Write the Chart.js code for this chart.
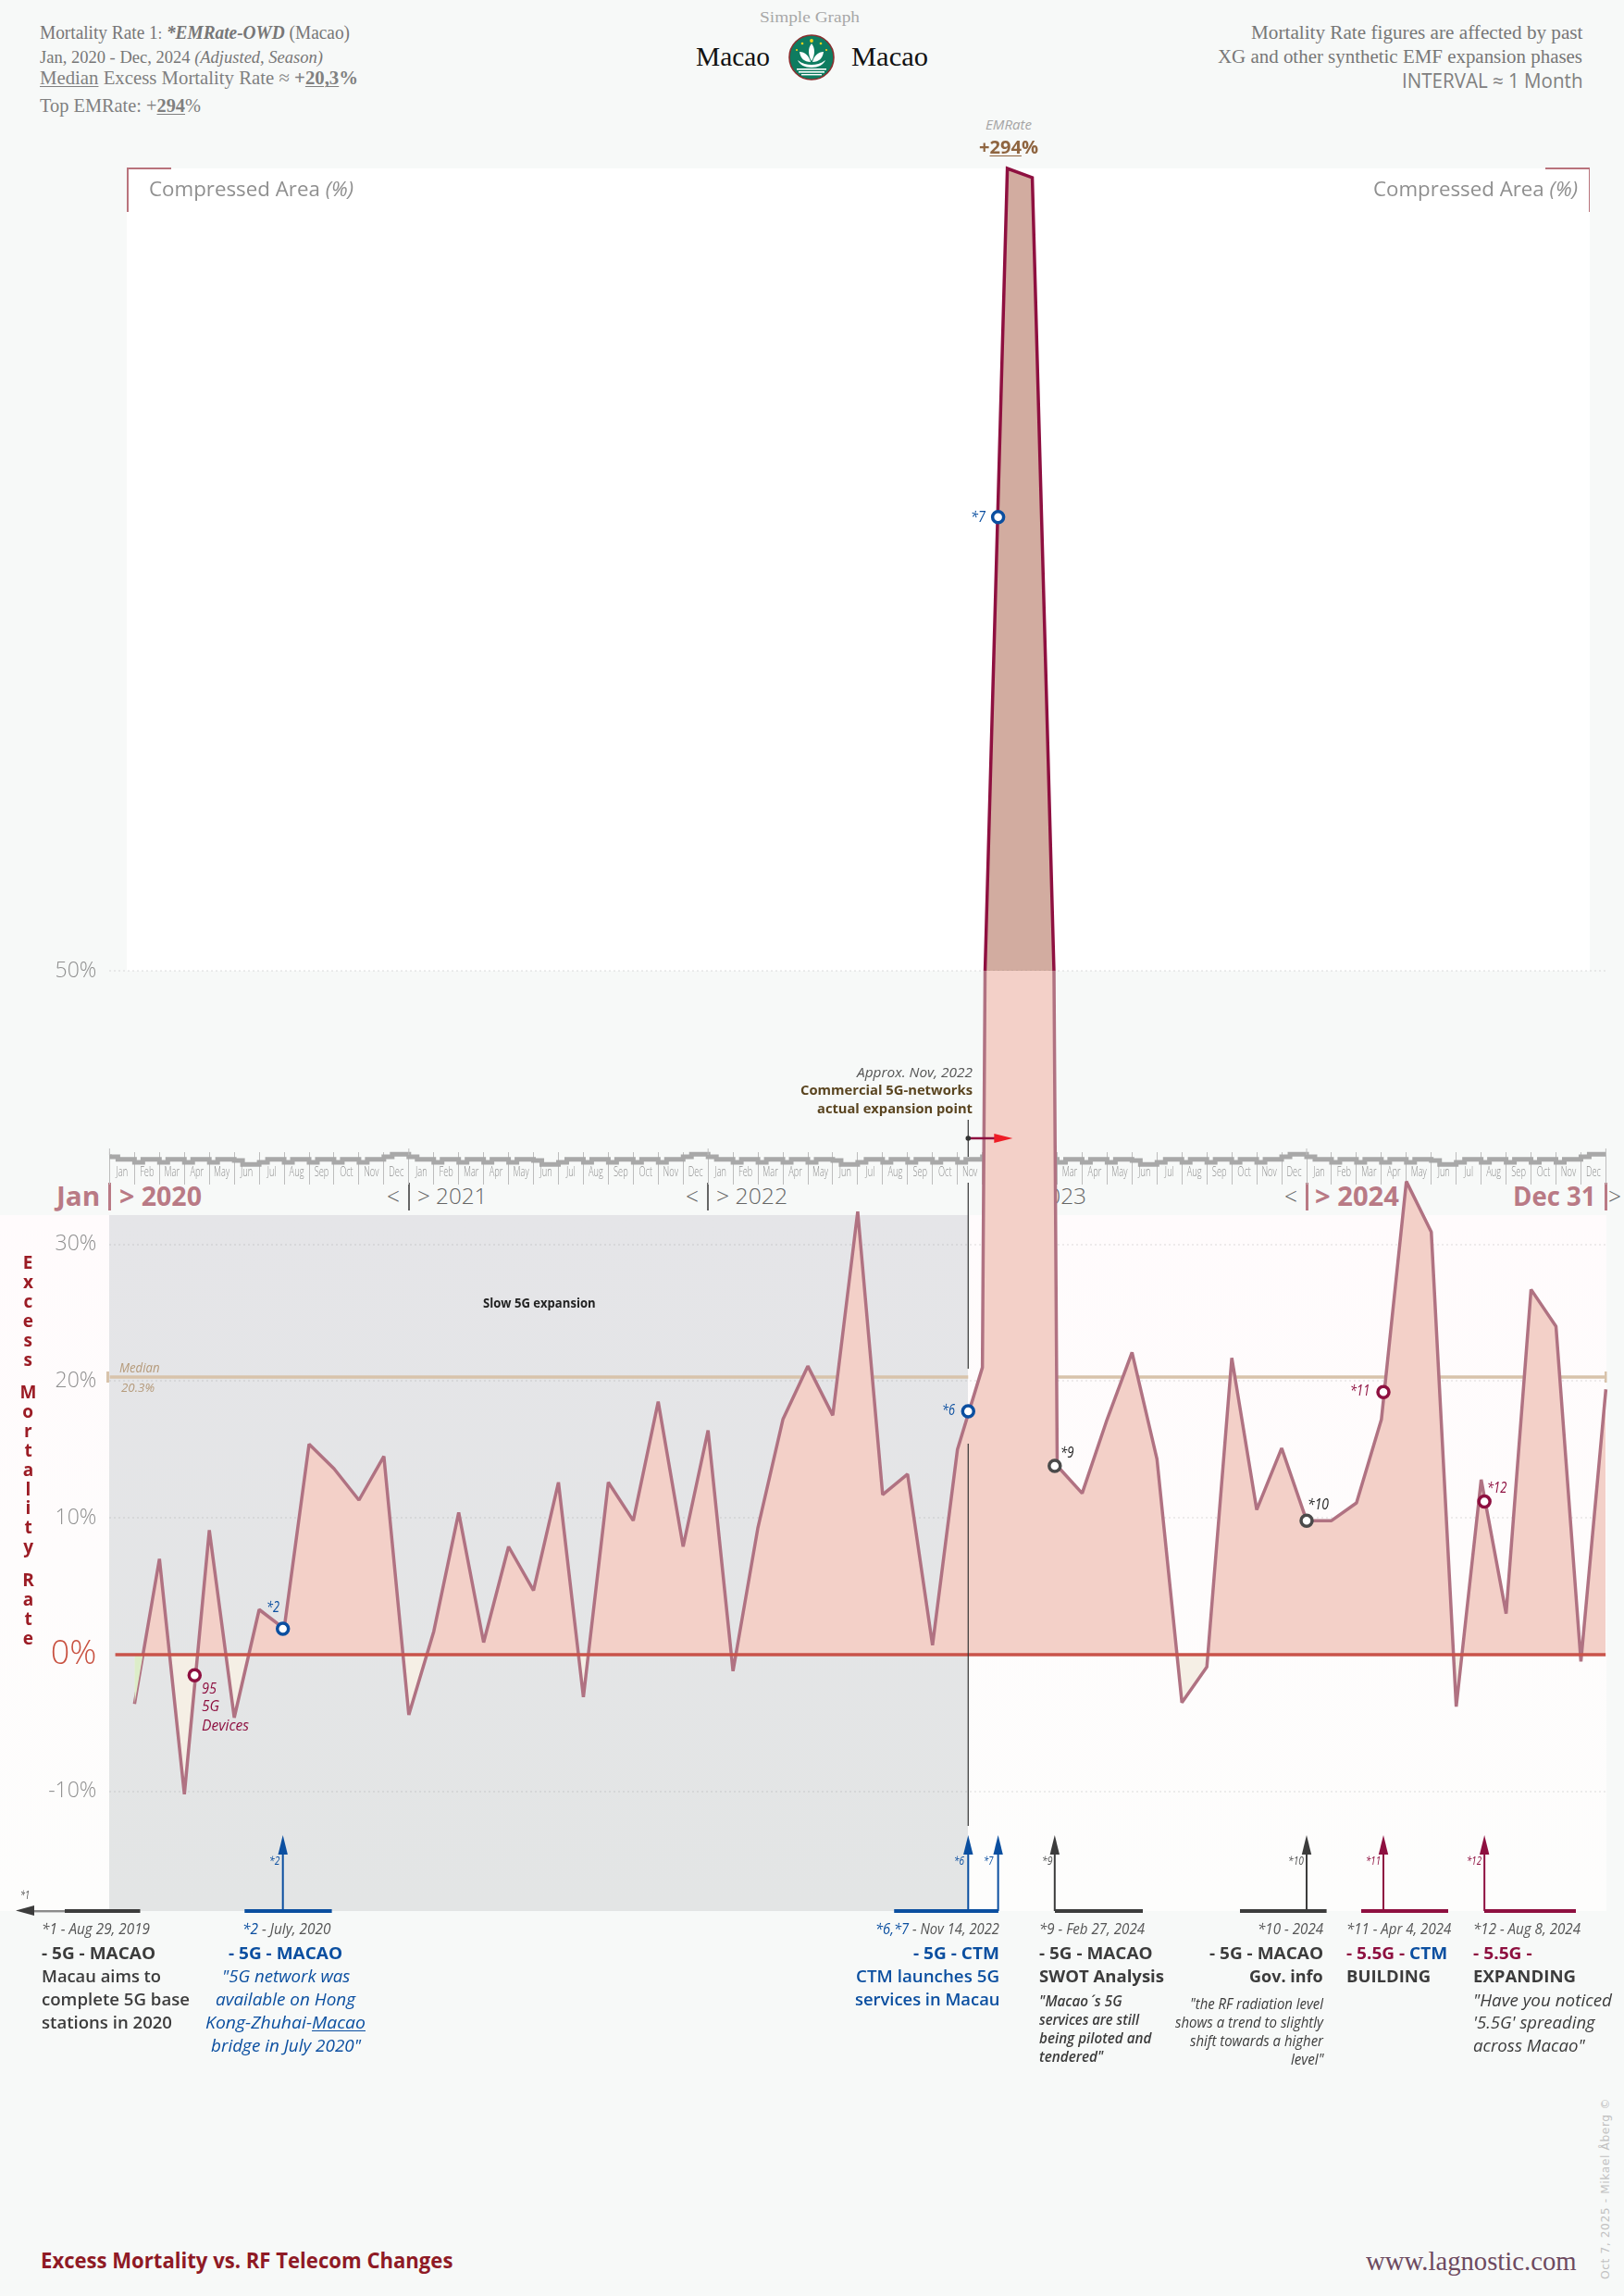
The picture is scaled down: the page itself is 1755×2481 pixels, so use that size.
<!DOCTYPE html>
<html><head><meta charset="utf-8">
<script src="https://cdn.jsdelivr.net/npm/chart.js@4"></script>
<style>
html,body{margin:0;padding:0;width:1755px;height:2481px;overflow:hidden;background:#f7f9f8}
#stage{position:absolute;left:0;top:0;width:1755px;height:2481px;overflow:hidden}
.box{position:absolute}
.t{position:absolute;white-space:nowrap;line-height:1.2}
canvas{position:absolute}
u{text-underline-offset:2px;text-decoration-thickness:1px}
</style></head><body>
<div id="stage"></div>
<script>
// ---------- DATA ----------
const seriesValues = [
 -3.6, 7.0, -10.2, 9.1, -4.6, 3.3, 1.9, 15.4, 13.6, 11.3, 14.5, -4.4,
 1.7, 10.4, 0.9, 7.9, 4.7, 12.6, -3.1, 12.6, 9.8, 18.5, 7.9, 16.4,
 -1.2, 9.3, 17.2, 21.1, 17.5, 32.4, 11.7, 13.2, 0.7, 15.0, 21.0, 294,
 291.2, 13.8, 11.8, 17.2, 22.1, 14.3, -3.5, -0.9, 21.7, 10.6, 15.1, 9.8,
 9.8, 11.1, 17.2, 34.6, 30.9, -3.8, 12.8, 3.0, 26.7, 24.0, -0.5, 19.4];
const markerMonths = [3.41, 6.95, 34.43, 35.63, 37.9, 48, 51.08, 55.13];
const markerValues = [-1.5, 1.9, 17.8, 188, 13.8, 9.8, 19.2, 11.2];
const markerNames  = ['95','*2','*6','*7','*9','*10','*11','*12'];
const medianValue = 20.3;
const yTickValues = [-10, 0, 10, 20, 30, 50];
const monthNames = ['Jan','Feb','Mar','Apr','May','Jun','Jul','Aug','Sep','Oct','Nov','Dec'];
const yearNames = ['2020','2021','2022','2023','2024'];
// calendar band: level of the grey band for each third of a month over one year
const calendarLevels = [33,25,17, 17,7,17, 17,7,17, 17,7,17, 17,7,17, 17,13,0, 0,7,17, 17,7,17, 17,7,17, 17,7,17, 17,7,17, 17,25,33];

// ---------- COLOURS ----------
const BLUE='#0b4fa0', MAROON='#8e1040', DARK='#3c3c3c', ROSE='#b97a85';
const markerColors=[MAROON,BLUE,BLUE,BLUE,'#4a4a4a','#4a4a4a',MAROON,MAROON];
const SANS="'Open Sans',sans-serif", SERIF="'Liberation Serif',serif";
const stage=document.getElementById('stage');

function box(x,y,w,h,bg,z){const d=document.createElement('div');d.className='box';
 d.style.cssText=`left:${x}px;top:${y}px;width:${w}px;height:${h}px;background:${bg};z-index:${z||1}`;stage.appendChild(d);return d;}
// html text fitted between x0 and x1 and vertically centred on cy
function T(html,x0,x1,cy,o){o=o||{};const d=document.createElement('div');d.className='t';d.innerHTML=html;
 const size=o.size||18;
 d.style.cssText=`left:${x0}px;top:${cy-size*0.6}px;font-family:${o.font||SANS};font-size:${size}px;font-weight:${o.weight||400};font-style:${o.style||'normal'};color:${o.color||'#777'};z-index:${o.z||20};transform-origin:0 50%`;
 stage.appendChild(d);const w=d.getBoundingClientRect().width;
 if(x1) d.style.transform=`scaleX(${(x1-x0)/w})`;return d;}

// ---------- BACKGROUNDS ----------
box(0,1313,1736,752,'linear-gradient(#fffbfc,#fdfdfc)',1);
box(118.4,1313,927.9,752,'linear-gradient(#e5e5e8,#e3e5e5)',2);
box(137,182,1581,867,'#ffffff',1);
// compressed-area corner brackets
box(137,181,48,1.5,'#b9737c',3);box(137,181,1.5,48,'#b9737c',3);
box(1670,181,48,1.5,'#b9737c',3);box(1716.5,181,1.5,48,'#b9737c',3);

// ---------- HEADER ----------
T('Mortality Rate 1<span style="font-size:.8em">:</span> <b><i>*EMRate-OWD</i></b> (Macao)',43,378,35,{font:SERIF,size:20});
T('Jan, 2020 - Dec, 2024 <i>(Adjusted, Season)</i>',43,349,62,{font:SERIF,size:19});
T('<u>Median</u> Excess Mortality Rate ≈ <b>+<u>20,3</u>%</b>',43,387,85,{font:SERIF,size:21,color:'#808080'});
T('Top EMRate: +<b><u>294</u></b>%',43,217,115,{font:SERIF,size:21,color:'#808080'});
T('Simple Graph',821,929,19,{font:SERIF,size:17,color:'#a8a8a8'});
T('Macao',752,832,61,{font:SERIF,size:30,color:'#111'});
T('Macao',920,1003,61,{font:SERIF,size:30,color:'#111'});
T('Mortality Rate figures are affected by past',1351.5,1710,35,{font:SERIF,size:20});
T('XG and other synthetic EMF expansion phases',1316,1710,61,{font:SERIF,size:20});
T('INTERVAL ≈ 1 Month',1514.5,1710,88,{size:21,color:'#808080'});
T('EMRate',1065,1115,135,{size:14,style:'italic',color:'#a5a5a5'});
T('+<u>294</u>%',1058,1122,159,{size:20,weight:700,color:'#8f6540'});
T('Compressed Area <i>(%)</i>',160.5,381.6,203,{size:22,color:'#8f8f8f'});
T('Compressed Area <i>(%)</i>',1484,1705,203,{size:22,color:'#8f8f8f'});

// emblem
(function(){const d=document.createElement('div');d.className='box';d.style.cssText='left:852px;top:37px;width:50px;height:50px;z-index:20';
d.innerHTML=`<svg width="50" height="50" viewBox="0 0 50 50"><circle cx="25" cy="25" r="24" fill="#0e7c60" stroke="#8a2f2f" stroke-width="1.6"/>
<g fill="#fff"><path d="M25 10c4 5 4 12 0 19c-4-7-4-14 0-19z"/><path d="M12 19c6 0 10 4 12 11c-7 0-11-4-12-11z"/><path d="M38 19c-6 0-10 4-12 11c7 0 11-4 12-11z"/><path d="M10 28c5 4 10 5 15 5s10-1 15-5c-2 5-8 8-15 8s-13-3-15-8z"/>
<rect x="9" y="37" width="32" height="1.6"/><rect x="11" y="40" width="28" height="1.6"/><rect x="14" y="43" width="22" height="1.4"/></g>
<g fill="#f7d51d"><circle cx="25" cy="7" r="1.9"/><circle cx="15" cy="10" r="1.3"/><circle cx="35" cy="10" r="1.3"/><circle cx="9" cy="17" r="1.1"/><circle cx="41" cy="17" r="1.1"/></g></svg>`;stage.appendChild(d);})();

// ---------- YEAR LABELS (behind the charts) ----------
function yearBar(x,c,w){box(x-w/2,1278,w,30,c,4);}
T('Jan',60.6,108,1292,{size:29,weight:700,color:ROSE,z:4});yearBar(118.4,ROSE,3);
T('&gt; '+yearNames[0],129,218,1292,{size:29,weight:700,color:ROSE,z:4});
T('&lt;',418,432,1292,{size:25,weight:300,color:'#666',z:4});yearBar(441.8,'#666',2);
T('&gt; '+yearNames[1],450.6,526,1292,{size:24,weight:300,color:'#666',z:4});
T('&lt;',741,755,1292,{size:25,weight:300,color:'#666',z:4});yearBar(765,'#666',2);
T('&gt; '+yearNames[2],774,851,1292,{size:24,weight:300,color:'#666',z:4});
T('&gt; '+yearNames[3],1098,1174,1292,{size:24,weight:300,color:'#666',z:4});
T('&lt;',1388,1402,1292,{size:25,weight:300,color:'#666',z:4});yearBar(1412,ROSE,3);
T('&gt; '+yearNames[4],1421,1512,1292,{size:29,weight:700,color:ROSE,z:4});
T('Dec 31',1634.5,1724,1292,{size:29,weight:700,color:ROSE,z:4});yearBar(1735.5,ROSE,3);
T('&gt;',1738,1752,1292,{size:25,weight:300,color:'#666',z:4});

// ---------- AXIS TITLE ----------
function vertical(txt,top){const d=document.createElement('div');d.className='t';d.textContent=txt;
 d.style.cssText=`left:18px;top:${top}px;width:24px;writing-mode:vertical-rl;text-orientation:upright;font-family:${SANS};font-weight:700;font-size:19px;line-height:24px;letter-spacing:-5.1px;color:#9b1c25;z-index:20`;stage.appendChild(d);}
vertical('Excess',1351);vertical('Mortality',1491);vertical('Rate',1694);

// ---------- CHART LABELS ----------
T('Slow 5G expansion',522,643.6,1408,{size:14,weight:700,color:'#222'});
T('Median',128.5,172,1478,{size:14,style:'italic',color:'#b59a7a'});
T('20.3%',131,167,1500,{size:13,style:'italic',color:'#b59a7a'});
T('95',218,234,1824.5,{size:16,style:'italic',color:MAROON});
T('5G',218,237,1844,{size:16,style:'italic',color:MAROON});
T('Devices',218,269,1864.5,{size:16,style:'italic',color:MAROON});
T('*2',288,302,1737,{size:16,style:'italic',color:BLUE});
T('*6',1018,1032,1524,{size:16,style:'italic',color:BLUE});
T('*7',1049,1065,559,{size:16,style:'italic',color:BLUE});
T('*9',1145.6,1160,1570,{size:16,style:'italic',color:'#222'});
T('*10',1413,1436,1626,{size:16,style:'italic',color:'#222'});
T('*11',1458.7,1480,1503,{size:16,style:'italic',color:MAROON});
T('*12',1606.6,1628,1608,{size:16,style:'italic',color:MAROON});
T('Approx. Nov, 2022',926,1051,1158,{size:15,style:'italic',color:'#555'});
T('Commercial 5G-networks',865,1051,1177,{size:15,weight:700,color:'#5a4520'});
T('actual expansion point',883,1051,1197,{size:15,weight:700,color:'#5a4520'});
// small arrow tags
const tag={size:12,style:'italic'};
T('*1',22,32,2048,{...tag,color:'#555'});
T('*2',290.7,302,2011,{...tag,color:BLUE});
T('*6',1031,1042,2011,{...tag,color:BLUE});
T('*7',1062.5,1073,2011,{...tag,color:BLUE});
T('*9',1125.5,1137,2011,{...tag,color:'#555'});
T('*10',1392,1409,2011,{...tag,color:'#555'});
T('*11',1476,1492,2011,{...tag,color:MAROON});
T('*12',1585,1601,2011,{...tag,color:MAROON});

// ---------- ANNOTATION COLUMNS ----------
const date={size:16,style:'italic',color:'#555'}, head={size:18,weight:700,color:DARK}, body={size:18,weight:600,color:DARK};
const bq={size:18,style:'italic',color:BLUE,weight:500}, q9={size:15.5,style:'italic',weight:600,color:DARK}, q10={size:15.5,style:'italic',color:DARK}, q12={size:18,style:'italic',color:DARK};
T('*1 - Aug 29, 2019',45,162,2085,date);
T('- 5G - MACAO',45,168,2111,head);
T('Macau aims to',45,174,2136,body);
T('complete 5G base',45,205,2161,body);
T('stations in 2020',45,186,2186,body);
T(`<span style="color:${BLUE}">*2</span> - July, 2020`,261.5,357,2085,date);
T('- 5G - MACAO',247,370,2111,{...head,color:BLUE});
T('"5G network was',239.6,378,2136,bq);
T('available on Hong',233,384,2161,bq);
T('Kong-Zhuhai-<u>Macao</u>',222,395,2186,bq);
T('bridge in July 2020"',228,390,2211,bq);
T(`<span style="color:${BLUE}">*6,*7</span> - Nov 14, 2022`,946,1080,2085,date);
T('- 5G - CTM',987,1080,2111,{...head,color:BLUE});
T('CTM launches 5G',925,1080,2136,{...head,color:BLUE,weight:600});
T('services in Macau',923.5,1080,2161,{...head,color:BLUE,weight:600});
T('*9 - Feb 27, 2024',1123,1237,2085,date);
T('- 5G - MACAO',1123,1245.5,2111,head);
T('SWOT Analysis',1123,1258,2136,head);
T('"Macao<span style="margin-left:.14em;letter-spacing:.3em">´</span>s 5G',1123,1212.6,2162,q9);
T('services are still',1123,1231,2182.7,q9);
T('being piloted and',1123,1244.4,2202.7,q9);
T('tendered"',1123,1192.5,2222.7,q9);
T('*10 - 2024',1358.8,1430,2085,date);
T('- 5G - MACAO',1307,1430,2111,head);
T('Gov. info',1350.4,1430,2136,head);
T('"the RF radiation level',1286,1430,2165,q10);
T('shows a trend to slightly',1270,1430,2185,q10);
T('shift towards a higher',1286,1430,2205,q10);
T('level"',1394.5,1430,2225,q10);
T('*11 - Apr 4, 2024',1454.8,1568,2085,date);
T(`<span style="color:${MAROON}">- 5.5G -</span> <span style="color:${BLUE}">CTM</span>`,1454.8,1564,2111,head);
T('BUILDING',1454.8,1546,2136,head);
T('*12 - Aug 8, 2024',1592,1708,2085,date);
T('- 5.5G -',1592,1655.7,2111,{...head,color:MAROON});
T('EXPANDING',1592,1703,2136,head);
T('"Have you noticed',1592,1742,2162,q12);
T("'5.5G' spreading",1592,1723.7,2186,q12);
T('across Macao"',1592,1712.6,2211,q12);

// ---------- FOOTER ----------
T('Excess Mortality vs. RF Telecom Changes',43.6,489,2443,{size:23,weight:700,color:'#8f1a25'});
T('www.lagnostic.com',1476,1703.6,2443,{font:SERIF,size:29,color:'#6d4a60'});
(function(){const d=T('Oct 7, 2025 - Mikael Åberg ©',0,0,0,{font:"'DejaVu Sans',sans-serif",size:12,color:'#c2c2c2'});
 d.style.letterSpacing='0.6px';const w=d.getBoundingClientRect().width;
 d.style.left='1735px';d.style.top='2463px';d.style.transformOrigin='0 0';d.style.transform=`rotate(-90deg) translateY(-7px) scaleX(${196/w})`;})();

// ---------- CHARTS ----------
function mk(x,y,w,h,z){const c=document.createElement('canvas');c.width=w;c.height=h;
 c.style.cssText=`left:${x}px;top:${y}px;width:${w}px;height:${h}px;z-index:${z}`;stage.appendChild(c);return c;}
const seriesPoints=seriesValues.map((v,i)=>({x:i+1,y:v}));
const markerPoints=markerMonths.map((m,i)=>({x:m,y:markerValues[i]}));
const xLinear={type:'linear',min:0,max:60,display:false};
const common={responsive:false,animation:false,devicePixelRatio:1,plugins:{legend:{display:false},tooltip:{enabled:false}},events:[],elements:{point:{radius:0},line:{tension:0,borderJoinStyle:'miter'}}};
const markerSet=(clip)=>({label:'Events',data:markerPoints,showLine:false,pointRadius:6,pointBorderWidth:3.5,
 pointBackgroundColor:'#fff',pointBorderColor:markerColors,clip});

// calendar band with month ticks
const calendarAll=[...calendarLevels,...calendarLevels,...calendarLevels,...calendarLevels,...calendarLevels];
const calendarPoints=calendarAll.map((v,k)=>({x:k/3,y:v}));
calendarPoints.push({x:60,y:33});
const monthLabels=yearNames.flatMap(()=>monthNames);
new Chart(mk(0,1238,1755,47,5),{type:'line',
 data:{labels:monthLabels,datasets:[{label:'Calendar',data:calendarPoints,xAxisID:'x',yAxisID:'y',stepped:'after',borderColor:'#a8a8a8',borderWidth:5,fill:false,clip:{left:0,right:0,top:6,bottom:0}}]},
 options:{...common,layout:{autoPadding:false,padding:{left:118.4,right:19.6,top:7,bottom:5}},
  scales:{x:xLinear,y:{display:false,min:-65,max:40},
   months:{type:'category',position:'bottom',offset:true,labels:monthLabels,
    afterFit(s){s.height=0;},
    border:{display:false},
    grid:{offset:true,color:'#bdbdbd',lineWidth:1,drawTicks:false},
    ticks:{display:false}}}},
 plugins:[{id:'calendarLabels',afterDatasetsDraw(ch){const c=ch.ctx,s=ch.scales.x,m=ch.scales.months;c.save();c.strokeStyle='#bdbdbd';c.lineWidth=1;
   for(let i=0;i<=5;i++){const x=s.getPixelForValue(i*12);c.beginPath();c.moveTo(x,3);c.lineTo(x,ch.chartArea.top+3);c.stroke();}
   // month names sit inside the tick cells, drawn condensed
   c.fillStyle='#8f8f8f';c.font='300 14px '+SANS;c.textAlign='center';c.textBaseline='middle';
   monthLabels.forEach((lab,i)=>{const x=m.getPixelForValue(i);c.save();c.translate(x,29);c.scale(0.66,1);c.fillText(lab,0,0);c.restore();});
   c.restore();}}]
});

// upper, compressed panel: 50 to 294 %
new Chart(mk(0,170,1755,879,6),{type:'line',
 data:{datasets:[markerSet({left:8,right:0,top:6,bottom:0}),
  {label:'Excess mortality',data:seriesPoints,borderColor:'#8e1040',borderWidth:3.5,
   fill:{target:{value:50},above:'#d2aca0',below:'rgba(0,0,0,0)'},clip:{left:0,right:0,top:8,bottom:0}}]},
 options:{...common,layout:{autoPadding:false,padding:{left:118.4,right:19.6,top:12,bottom:0}},
  scales:{x:xLinear,y:{display:false,min:50,max:294}}}
});

// lower, linear panel: -18.7 to 50 %
const annotations={id:'annotations',afterDatasetsDraw(ch){
 const c=ch.ctx,sx=ch.scales.x,top=1000;const Y=v=>v-top;
 const X=k=>sx.getPixelForValue(markerMonths[k]);
 c.save();
 // vertical marker for the expansion point
 c.strokeStyle='#333';c.lineWidth=1.2;
 [[1210,1250],[1278,1479],[1560,1973]].forEach(([a,b])=>{c.beginPath();c.moveTo(X(2),Y(a));c.lineTo(X(2),Y(b));c.stroke();});
 // red arrow
 c.strokeStyle=MAROON;c.lineWidth=2.5;c.beginPath();c.moveTo(X(2),Y(1230));c.lineTo(X(2)+30,Y(1230));c.stroke();
 c.fillStyle='#333';c.beginPath();c.arc(X(2),Y(1230),2.8,0,7);c.fill();
 c.fillStyle='#ee1c25';c.beginPath();c.moveTo(X(2)+28,Y(1225));c.lineTo(X(2)+48,Y(1230));c.lineTo(X(2)+28,Y(1235));c.closePath();c.fill();
 // median end caps
 c.fillStyle='#d8c3ab';c.fillRect(115,Y(1482),3,12);c.fillRect(1734,Y(1482),2.5,12);
 // event arrows
 const arrows=[[1,264.3,358.6,BLUE],[2,966.5,1078.7,BLUE],[3,966.5,1078.7,BLUE],[4,1140,1235,DARK],[5,1340,1433.6,DARK],[6,1471,1565,MAROON],[7,1604,1703,MAROON]];
 arrows.forEach(([k,a,b,col])=>{const x=X(k);c.fillStyle=col;c.strokeStyle=col;
  c.fillRect(a,Y(2063),b-a,4);
  c.lineWidth=2;c.beginPath();c.moveTo(x,Y(2065));c.lineTo(x,Y(2000));c.stroke();
  c.beginPath();c.moveTo(x,Y(1983));c.lineTo(x+5.2,Y(2004));c.lineTo(x-5.2,Y(2004));c.closePath();c.fill();});
 // *1 arrow pointing out of the chart
 c.fillStyle=DARK;c.fillRect(70,Y(2063),81.5,4);c.fillStyle='#8b8b8b';c.fillRect(37,Y(2064),33,2.4);
 c.fillStyle=DARK;c.beginPath();c.moveTo(17,Y(2064.6));c.lineTo(37,Y(2059));c.lineTo(37,Y(2070));c.closePath();c.fill();
 c.restore();
}};
const yTickFont=ctx=>({family:SANS,weight:300,size:ctx.tick&&ctx.tick.value===0?36:23});
new Chart(mk(0,1000,1755,1110,7),{type:'line',
 data:{datasets:[
  markerSet({left:8,right:8,top:0,bottom:0}),
  {label:'Zero',data:[{x:0.23,y:0},{x:60,y:0}],borderColor:'#c9534a',borderWidth:3.6,fill:false},
  {label:'Sliver',data:[{x:1,y:-3.6},{x:1.34,y:0}],borderWidth:0,borderColor:'rgba(0,0,0,0)',fill:{target:{value:0},below:'#dcedc9',above:'#dcedc9'}},
  {label:'Excess mortality',data:seriesPoints,borderColor:'#b07282',borderWidth:3.5,borderJoinStyle:'bevel',
   fill:{target:{value:0},above:'#f3d0c8',below:'#f5efe5'},clip:{left:0,right:4,top:0,bottom:0}},
  {label:'Median',data:[{x:0,y:medianValue},{x:34.43,y:medianValue},{x:34.5,y:null},{x:35,y:medianValue},{x:60,y:medianValue}],borderColor:'#d8c3ab',borderWidth:3.4,fill:false,spanGaps:false}
 ]},
 options:{...common,layout:{autoPadding:false,padding:{left:0,right:19.6,top:49,bottom:45}},
  scales:{x:xLinear,
   y:{min:-18.74,max:50,position:'left',
    afterFit(s){s.width=118.4;},
    afterBuildTicks(s){s.ticks=yTickValues.map(v=>({value:v}));},
    border:{display:false,dash:[2,3]},
    grid:{drawTicks:false,lineWidth:2,color:ctx=>ctx.tick&&ctx.tick.value===0?'rgba(0,0,0,0)':'rgba(120,120,120,.13)'},
    ticks:{padding:14,autoSkip:false,color:ctx=>ctx.tick&&ctx.tick.value===0?'#c8503f':'#8f8f8f',font:yTickFont,callback:v=>v+'%'}}}},
 plugins:[annotations]
});
</script></body></html>
